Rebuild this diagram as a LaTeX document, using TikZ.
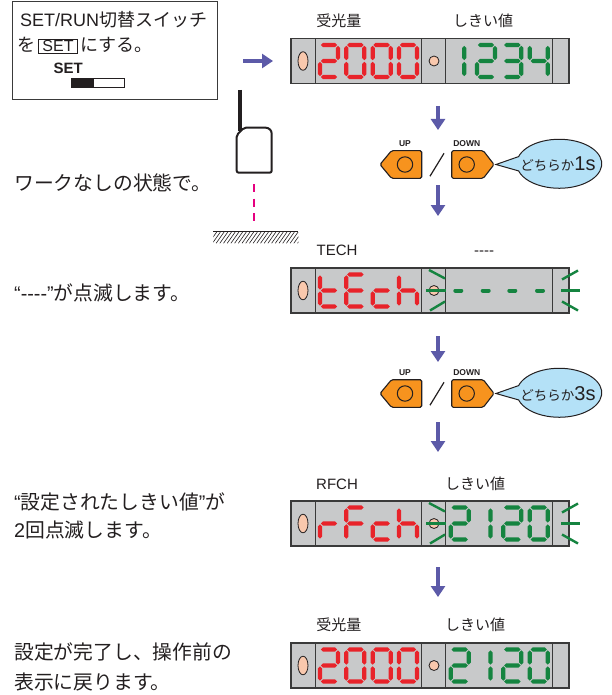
\documentclass[tikz,border=0pt]{standalone}
\usepackage{fontspec}
\setmainfont{Noto Sans CJK JP}
\newfontfamily\lat{Liberation Sans}
\usetikzlibrary{arrows.meta}

\definecolor{ink}{HTML}{231F20}
\definecolor{panelgray}{HTML}{C8C9CA}
\definecolor{edgegray}{HTML}{3A3A3A}
\definecolor{peach}{HTML}{F9C8AD}
\definecolor{segred}{HTML}{E8232A}
\definecolor{seggreen}{HTML}{158440}
\definecolor{btnorange}{HTML}{F7931E}
\definecolor{bubbleblue}{HTML}{B4E1F7}
\definecolor{flowarrow}{HTML}{5C5AA8}
\definecolor{beam}{HTML}{E5007F}

% one seven-segment cell: 22 wide, 36 high, origin top left
\newcommand\hseg[1]{\fill (2.8,#1) -- (4.9,#1-2.1) -- (17.1,#1-2.1) -- (19.2,#1) -- (17.1,#1+2.1) -- (4.9,#1+2.1) -- cycle;}
\newcommand\vseg[2]{\fill (#1,#2+0.8) -- (#1+2.1,#2+2.9) -- (#1+2.1,#2+13.1) -- (#1,#2+15.2) -- (#1-2.1,#2+13.1) -- (#1-2.1,#2+2.9) -- cycle;}
\newcommand\sgA{\hseg{2}}
\newcommand\sgG{\hseg{18}}
\newcommand\sgD{\hseg{34}}
\newcommand\sgF{\vseg{2}{2}}
\newcommand\sgE{\vseg{2}{18}}
\newcommand\sgB{\vseg{20}{2}}
\newcommand\sgC{\vseg{20}{18}}
\newcommand\dOne{\vseg{15.5}{2}\vseg{15.5}{18}}
\newcommand\dTwo{\sgA\sgB\sgG\sgE\sgD}
\newcommand\dZero{\sgA\sgB\sgC\sgD\sgE\sgF}
\newcommand\dThree{\sgA\sgB\sgG\sgC\sgD}
\newcommand\dFour{\sgF\sgB\sgG\sgC}
\newcommand\dT{\sgF\sgE\sgG\sgD}
\newcommand\dE{\sgA\sgF\sgG\sgE\sgD}
\newcommand\dC{\sgG\sgE\sgD}
\newcommand\dH{\sgF\sgE\sgG\sgC}
\newcommand\dR{\sgE\sgG}
\newcommand\dF{\sgA\sgF\sgG\sgE}
\newcommand\sevenseg[3]{\begin{scope}[shift={(#1,#2)}]#3\end{scope}}
\newcommand\redfour[5]{\begin{scope}[fill=segred]
  \sevenseg{318}{#1-18}{#2}\sevenseg{344.33}{#1-18}{#3}%
  \sevenseg{370.67}{#1-18}{#4}\sevenseg{397}{#1-18}{#5}\end{scope}}
\newcommand\greenfour[5]{\begin{scope}[fill=seggreen]
  \sevenseg{448.7}{#1-18}{#2}\sevenseg{475}{#1-18}{#3}%
  \sevenseg{501.3}{#1-18}{#4}\sevenseg{527.7}{#1-18}{#5}\end{scope}}

% sensor display body: name, vertical centre
\newcommand\sensorpanel[2]{%
  \node[panelbox] (#1) at (430,#2) {};
  \foreach \dx in {315.3,421.7,445.7,552.7}
    \draw[divider] (\dx,#2-22.5) -- (\dx,#2+22.5);
  \draw[lamp] (303,#2) ellipse [x radius=5pt, y radius=9.3pt];
  \draw[lamp] (434,#2) circle [radius=5pt];
}
% flashing marks around the threshold display
\newcommand\blinkmarks[1]{%
  \draw[blink] (429,#1-20.5) -- (445,#1-12);
  \draw[blink] (426,#1) -- (446,#1);
  \draw[blink] (430,#1+20) -- (445,#1+11);
  \draw[blink] (562,#1-11) -- (578,#1-20);
  \draw[blink] (561,#1) -- (580,#1);
  \draw[blink] (562,#1+11) -- (578,#1+20);
}
% UP / DOWN keys with speech bubble: suffix, vertical centre, seconds
\newcommand\keypair[3]{%
  \draw[btn] (421.7,#2-13.8) -- (391.5,#2-13.8) -- (380,#2) -- (391.5,#2+13.8) -- (421.7,#2+13.8) -- cycle;
  \draw[btn] (451.7,#2-13.8) -- (483.3,#2-13.8) -- (494,#2) -- (483.3,#2+13.8) -- (451.7,#2+13.8) -- cycle;
  \node[btnring] (up#1) at (405,#2) {};
  \node[btnring] (down#1) at (466.7,#2) {};
  \node[btnlabel] (uptag#1) at (405,#2-21) {UP};
  \node[btnlabel] (downtag#1) at (466.7,#2-21) {DOWN};
  \draw[ink, line width=1.2] (430,#2+11.7) -- (444,#2-11.2);
  \draw[bubble] (518.6,#2-7.9) arc [start angle=163, end angle=-163, x radius=42.5pt, y radius=24.5pt]
     -- (496,#2) -- cycle;
  \node[inner sep=0, text=ink] (say#1) at (558,#2) {{\fontsize{13.5}{13.5}\selectfont どちらか}{\lat\fontsize{20}{20}\selectfont #3s}};
}

\tikzset{
  panelbox/.style={draw=edgegray, fill=panelgray, line width=1.1, minimum width=278, minimum height=45, inner sep=0},
  divider/.style={draw=edgegray, line width=1.1},
  lamp/.style={draw=ink, fill=peach, line width=0.8},
  blink/.style={draw=seggreen, line width=2.4},
  flow/.style={draw=flowarrow, line width=4.5, -{Triangle[length=11pt,width=14pt]}},
  btn/.style={draw=ink, fill=btnorange, line width=1.1, rounded corners=1.5},
  btnring/.style={circle, draw=ink, line width=1, minimum size=15.4, inner sep=0},
  btnlabel/.style={font=\lat\bfseries\fontsize{8.5}{8.5}\selectfont, text=ink, inner sep=0},
  bubble/.style={draw=ink, fill=bubbleblue, line width=1},
  bodytext/.style={font=\fontsize{19.8}{19.8}\selectfont, text=ink, inner sep=0, anchor=west},
  paneltag/.style={font=\fontsize{15}{15}\selectfont, text=ink, inner sep=0},
  boxtext/.style={font=\fontsize{18}{18}\selectfont, text=ink, inner sep=0, anchor=base west},
}

\begin{document}
\begin{tikzpicture}[x=1pt, y=-1pt]
\useasboundingbox (0,0) rectangle (611,695);
\fill[white] (0,0) rectangle (611,695);

% instruction box with the SET/RUN switch
\node[draw=edgegray, line width=1, minimum width=205.5, minimum height=98, inner sep=0, anchor=north west] (setbox) at (11.5,1.5) {};
\node[boxtext] (boxl1) at (20,26.7) {{\lat SET/RUN}切替スイッチ};
\node[boxtext] (boxl2a) at (17,51.5) {を};
\node[draw=ink, line width=0.8, minimum width=39, minimum height=14, inner sep=0, font=\lat\fontsize{16}{16}\selectfont, text=ink] (setkey) at (58,46.3) {SET};
\node[boxtext] (boxl2b) at (80,51.5) {にする。};
\node[font=\lat\bfseries\fontsize{15}{15}\selectfont, text=ink, inner sep=0] (swtag) at (68.3,68.5) {SET};
\node[draw=ink, line width=0.9, minimum width=53.6, minimum height=9, inner sep=0, anchor=north west] (switch) at (70.7,78.3) {};
\fill[ink] (70.7,78.3) rectangle (94.3,87.3);

% photoelectric sensor, beam and floor
\draw[ink, line width=4.5] (240,90) -- (240,131);
\draw[ink, line width=2, rounded corners=2] (236.7,135) -- (244,127.7) [rounded corners=6] -- (271.7,127.7) [rounded corners=2] -- (271.7,172.7) -- (236.7,172.7) -- cycle;
\draw[beam, line width=2.5, dash pattern=on 8pt off 6.5pt] (254,184) -- (254,222);
\draw[ink, line width=1.2] (213.3,231.7) -- (298.3,231.7);
\begin{scope}
  \clip (213.3,232) rectangle (298.3,243.3);
  \foreach \hx in {205,208.7,...,301}
    \draw[ink, line width=0.6] (\hx,243.3) -- (\hx+8,232);
\end{scope}

% step texts
\node[bodytext] (txt1) at (14,183.3) {ワークなしの状態で。};
\node[bodytext] (txt2) at (14,293.3) {{\lat “----”}が点滅します。};
\node[bodytext] (txt3a) at (14,501.7) {{\lat “}設定されたしきい値{\lat ”}が};
\node[bodytext] (txt3b) at (14,530) {{\lat 2}回点滅します。};
\node[bodytext] (txt4a) at (14,651.7) {設定が完了し、操作前の};
\node[bodytext] (txt4b) at (14,681.7) {表示に戻ります。};

% display 1
\node[paneltag] (tag1a) at (338.8,20.3) {受光量};
\node[paneltag] (tag1b) at (483,20.3) {しきい値};
\sensorpanel{disp1}{61}
\redfour{61}{\dTwo}{\dZero}{\dZero}{\dZero}
\greenfour{61}{\dOne}{\dTwo}{\dThree}{\dFour}

% display 2
\node[paneltag, anchor=base, font=\lat\fontsize{15}{15}\selectfont] (tag2a) at (337,255.4) {TECH};
\node[paneltag, anchor=base, font=\lat\fontsize{15}{15}\selectfont] (tag2b) at (484,255.4) {----};
\sensorpanel{disp2}{290.5}
\redfour{290.5}{\dT}{\dE}{\dC}{\dH}
\foreach \cx in {458.3,485.7,512.3,540}
  \draw[seggreen, line width=4, line cap=round] (\cx-3,290.5) -- (\cx+3,290.5);
\blinkmarks{290.5}

% display 3
\node[paneltag, anchor=base, font=\lat\fontsize{15}{15}\selectfont] (tag3a) at (337,489.4) {RFCH};
\node[paneltag] (tag3b) at (475,484) {しきい値};
\sensorpanel{disp3}{523.5}
\redfour{523.5}{\dR}{\dF}{\dC}{\dH}
\greenfour{523.5}{\dTwo}{\dOne}{\dTwo}{\dZero}
\blinkmarks{523.5}

% display 4
\node[paneltag] (tag4a) at (338.8,625) {受光量};
\node[paneltag] (tag4b) at (475,625) {しきい値};
\sensorpanel{disp4}{665.5}
\redfour{665.5}{\dTwo}{\dZero}{\dZero}{\dZero}
\greenfour{665.5}{\dTwo}{\dOne}{\dTwo}{\dZero}

% key operations
\keypair{a}{164.5}{1}
\keypair{b}{393.5}{3}

% flow arrows
\coordinate (f0s) at (243,61);   \coordinate (f0e) at (273,61);
\coordinate (f1s) at (438,106);  \coordinate (f1e) at (438,130);
\coordinate (f2s) at (438,185);  \coordinate (f2e) at (438,216);
\coordinate (f3s) at (438,336);  \coordinate (f3e) at (438,362);
\coordinate (f4s) at (438,422);  \coordinate (f4e) at (438,452);
\coordinate (f5s) at (438,567);  \coordinate (f5e) at (438,597);
\foreach \k in {0,...,5}
  \draw[flow] (f\k s) -- (f\k e);
\end{tikzpicture}
\end{document}
